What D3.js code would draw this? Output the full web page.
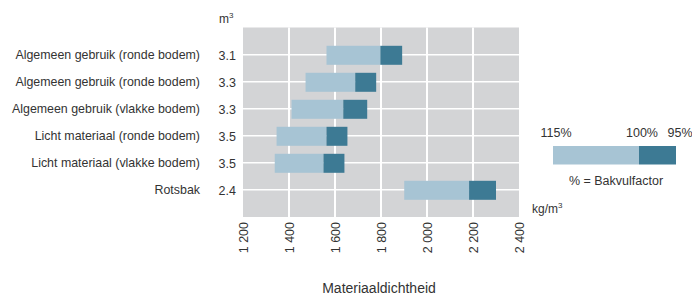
<!DOCTYPE html>
<html><head><meta charset="utf-8">
<script src="https://cdn.jsdelivr.net/npm/d3@7"></script>
<style>body{margin:0;background:#fff}svg{display:block;font-family:"Liberation Sans",Arial,sans-serif}</style>
</head><body><svg id="c" width="692" height="295"></svg>
<script>
const categories = ["Algemeen gebruik (ronde bodem)","Algemeen gebruik (ronde bodem)","Algemeen gebruik (vlakke bodem)","Licht materiaal (ronde bodem)","Licht materiaal (vlakke bodem)","Rotsbak"];
const volumes = ["3.1","3.3","3.3","3.5","3.5","2.4"];
const density115 = [1563,1472,1411,1346,1338,1901];
const density100 = [1797,1688,1636,1563,1550,2183];
const density95  = [1892,1779,1740,1654,1641,2300];
const xTicks = [1200,1400,1600,1800,2000,2200,2400];
const legendVals = [115,100,95];
const legendLabels = ["115%","100%","95%"];

(function(){
const svg = d3.select("#c");
const C = {bg:"#d3d4d6", light:"#a7c4d4", dark:"#3d7a94", text:"#333"};
const x = d3.scaleLinear().domain([1200,2400]).range([243,519]);
const idx = d3.range(categories.length);
const y = d3.scalePoint().domain(idx).range([54.8,189.8]);
const pTop = 27.5, pBottom = 217;

svg.append("rect").attr("x",x(1200)).attr("y",pTop).attr("width",x(2400)-x(1200)).attr("height",pBottom-pTop).attr("fill",C.bg);
svg.append("g").selectAll("line").data(xTicks.slice(1,-1)).join("line")
  .attr("x1",d=>x(d)).attr("x2",d=>x(d)).attr("y1",pTop).attr("y2",pBottom)
  .attr("stroke","#fff").attr("stroke-width",2);
svg.append("g").selectAll("line").data(idx).join("line")
  .attr("x1",x(1200)).attr("x2",x(2400)).attr("y1",d=>y(d)).attr("y2",d=>y(d))
  .attr("stroke","#fff").attr("stroke-width",1.6);

const bh = 19;
svg.append("g").selectAll("rect").data(idx).join("rect")
  .attr("x",i=>x(density115[i])).attr("width",i=>x(density100[i])-x(density115[i]))
  .attr("y",i=>y(i)-bh/2+0.5).attr("height",bh).attr("fill",C.light);
svg.append("g").selectAll("rect").data(idx).join("rect")
  .attr("x",i=>x(density100[i])).attr("width",i=>x(density95[i])-x(density100[i]))
  .attr("y",i=>y(i)-bh/2+0.5).attr("height",bh).attr("fill",C.dark);

svg.append("g").selectAll("text").data(idx).join("text")
  .attr("x",200).attr("y",i=>y(i)).attr("dy","0.35em").attr("text-anchor","end")
  .attr("font-size",12.4).attr("fill",C.text).text(i=>categories[i]);
svg.append("g").selectAll("text").data(idx).join("text")
  .attr("x",236).attr("y",i=>y(i)+1).attr("dy","0.35em").attr("text-anchor","end")
  .attr("font-size",12.5).attr("fill",C.text).text(i=>volumes[i]);
const m = svg.append("text").attr("x",219).attr("y",23).attr("font-size",12).attr("fill",C.text);
m.append("tspan").text("m");
m.append("tspan").attr("font-size",8).attr("dy",-5).text("3");

const xa = svg.append("g").attr("transform",`translate(0,${pBottom})`)
  .call(d3.axisBottom(x).tickValues(xTicks).tickSize(0).tickPadding(0)
    .tickFormat(d=>d3.format(",")(d).replace(",", " ")));
xa.select(".domain").remove();
xa.selectAll("text").attr("transform","rotate(-90)").attr("text-anchor","end")
  .attr("x",-5).attr("y",0).attr("dy","0.35em").attr("font-size",12.5).attr("fill",C.text)
  .attr("font-family","Liberation Sans, Arial, sans-serif");

const kg = svg.append("text").attr("x",532).attr("y",213).attr("font-size",12).attr("fill",C.text);
kg.append("tspan").text("kg/m");
kg.append("tspan").attr("font-size",8).attr("dy",-5).text("3");

svg.append("text").attr("x",379).attr("y",292.5).attr("text-anchor","middle")
  .attr("font-size",14).attr("fill",C.text).text("Materiaaldichtheid");

const lx = d3.scaleLinear().domain(legendVals).range([553,639,676]);
svg.append("rect").attr("x",lx(115)).attr("width",lx(100)-lx(115)).attr("y",146).attr("height",18.5).attr("fill",C.light);
svg.append("rect").attr("x",lx(100)).attr("width",lx(95)-lx(100)).attr("y",146).attr("height",18.5).attr("fill",C.dark);
const loff = [3,3,4];
svg.append("g").selectAll("text").data(legendVals).join("text")
  .attr("x",(d,i)=>lx(d)+loff[i]).attr("y",137).attr("text-anchor","middle")
  .attr("font-size",12.5).attr("fill",C.text).text((d,i)=>legendLabels[i]);
svg.append("text").attr("x",616).attr("y",184.5).attr("text-anchor","middle")
  .attr("font-size",12.5).attr("fill",C.text).text("% = Bakvulfactor");
})();
</script></body></html>
